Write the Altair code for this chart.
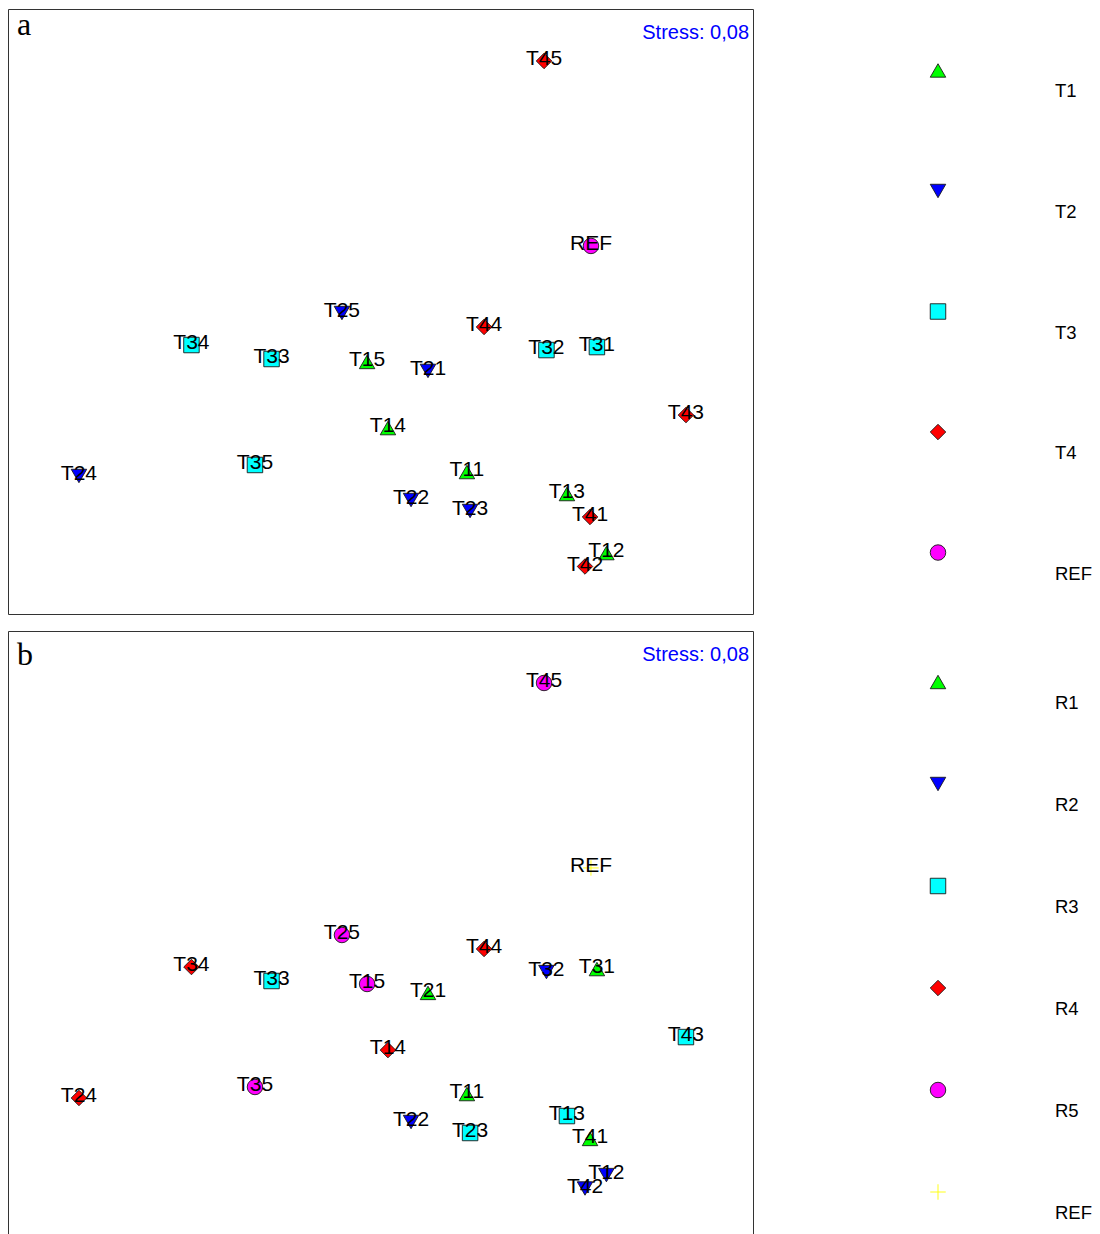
import altair as alt
import pandas as pd

# NMDS ordination scores of the sampling units (axis 1, axis 2)
samples = ["T11", "T12", "T13", "T14", "T15",
           "T21", "T22", "T23", "T24", "T25",
           "T31", "T32", "T33", "T34", "T35",
           "T41", "T42", "T43", "T44", "T45", "REF"]
nmds1 = [0.464, 1.213, 1.001, 0.040, -0.072,
         0.255, 0.164, 0.481, -1.619, -0.207,
         1.162, 0.891, -0.585, -1.015, -0.674,
         1.125, 1.098, 1.640, 0.556, 0.878, 1.130]
nmds2 = [-0.862, -1.297, -0.980, -0.626, -0.271,
         -0.319, -1.012, -1.071, -0.883, -0.008,
         -0.191, -0.207, -0.255, -0.180, -0.824,
         -1.103, -1.369, -0.556, -0.083, 1.345, 0.352]
stress = 0.08

treatments = ["T1", "T2", "T3", "T4", "REF"]
replicates = ["R1", "R2", "R3", "R4", "R5", "REF"]

# symbol styles
PLUS = "M-1,0L1,0M0,-1L0,1"
treat_shapes = ["triangle-up", "triangle-down", "square", "diamond", "circle"]
treat_fills = ["#00ff00", "#0000ff", "#00ffff", "#ff0000", "#ff00ff"]
treat_strokes = ["#1a1a1a"] * 5
rep_shapes = treat_shapes + [PLUS]
rep_fills = treat_fills + ["#ffff00"]
rep_strokes = treat_strokes + ["#ffff00"]

NARROW = "Liberation Sans Narrow, Arial Narrow, Liberation Sans, Arial, sans-serif"
SANS = "Liberation Sans, Arial, sans-serif"
SERIF = "Liberation Serif, Times New Roman, serif"

df = pd.DataFrame({"sample": samples, "nmds1": nmds1, "nmds2": nmds2})
df["treatment"] = [s if s == "REF" else s[:2] for s in samples]
df["replicate"] = [s if s == "REF" else "R" + s[2] for s in samples]

stress_df = pd.DataFrame({"label": ["Stress: " + f"{stress:.2f}".replace(".", ",")]})

PLOT_W, PLOT_H = 745, 605
KEY_W = 320


def symbol_encoding(field, domain, shapes, fills, strokes):
    return dict(
        shape=alt.Shape(f"{field}:N", scale=alt.Scale(domain=domain, range=shapes), legend=None),
        fill=alt.Fill(f"{field}:N", scale=alt.Scale(domain=domain, range=fills), legend=None),
        stroke=alt.Stroke(f"{field}:N", scale=alt.Scale(domain=domain, range=strokes), legend=None),
    )


def ordination_panel(field, domain, shapes, fills, strokes, letter, letter_y):
    enc = symbol_encoding(field, domain, shapes, fills, strokes)
    x = alt.X("nmds1:Q", scale=alt.Scale(domain=[-2.0, 2.0], nice=False, zero=False), axis=None)
    y = alt.Y("nmds2:Q", scale=alt.Scale(domain=[-1.624, 1.624], nice=False, zero=False), axis=None)
    base = alt.Chart(df)
    markers = base.mark_point(filled=True, size=240, strokeWidth=0.9, opacity=1).encode(
        x=x, y=y, **enc)
    labels = base.mark_text(font=NARROW, fontSize=21, dy=-2, color="black").encode(
        x=x, y=y, text="sample:N")
    stress_txt = alt.Chart(stress_df).mark_text(
        font=NARROW, fontSize=20, align="right", baseline="alphabetic", color="#0000ff"
    ).encode(x=alt.value(PLOT_W - 4), y=alt.value(30), text="label:N")
    letter_txt = alt.Chart(pd.DataFrame({"letter": [letter]})).mark_text(
        font=SERIF, fontSize=32, align="left", baseline="alphabetic", color="black"
    ).encode(x=alt.value(9), y=alt.value(letter_y), text="letter:N")
    return alt.layer(markers, labels, stress_txt, letter_txt).properties(
        width=PLOT_W, height=PLOT_H,
        view=alt.ViewBackground(stroke="#333333", strokeWidth=1),
    )


def key_panel(field, domain, shapes, fills, strokes, height, pad):
    enc = symbol_encoding(field, domain, shapes, fills, strokes)
    kdf = pd.DataFrame({field: domain})
    y = alt.Y(f"{field}:N", sort=domain, scale=alt.Scale(type="point", padding=pad), axis=None)
    sym = alt.Chart(kdf).mark_point(filled=True, size=240, strokeWidth=0.9, opacity=1).encode(
        x=alt.value(163), y=y, **enc)
    txt = alt.Chart(kdf).mark_text(font=SANS, fontSize=18.5, align="left", dy=21, color="black").encode(
        x=alt.value(280), y=y, text=f"{field}:N")
    return alt.layer(sym, txt).properties(
        width=KEY_W, height=height,
        view=alt.ViewBackground(stroke="transparent"),
    )


independent = dict(x="independent", y="independent", shape="independent",
                   fill="independent", stroke="independent")

row_a = alt.hconcat(
    ordination_panel("treatment", treatments, treat_shapes, treat_fills, treat_strokes, "a", 26),
    key_panel("treatment", treatments, treat_shapes, treat_fills, treat_strokes, 605, 0.51),
    spacing=20,
).resolve_scale(**independent)

row_b = alt.hconcat(
    ordination_panel("replicate", replicates, rep_shapes, rep_fills, rep_strokes, "b", 34),
    key_panel("replicate", replicates, rep_shapes, rep_fills, rep_strokes, 612, 0.5),
    spacing=20,
).resolve_scale(**independent)

chart = alt.vconcat(row_a, row_b, spacing=15).resolve_scale(**independent).properties(
    padding={"left": 7, "top": 8, "right": 0, "bottom": 0},
    background="white",
)

chart.save("out.html", embed_options={"renderer": "svg", "actions": False})
